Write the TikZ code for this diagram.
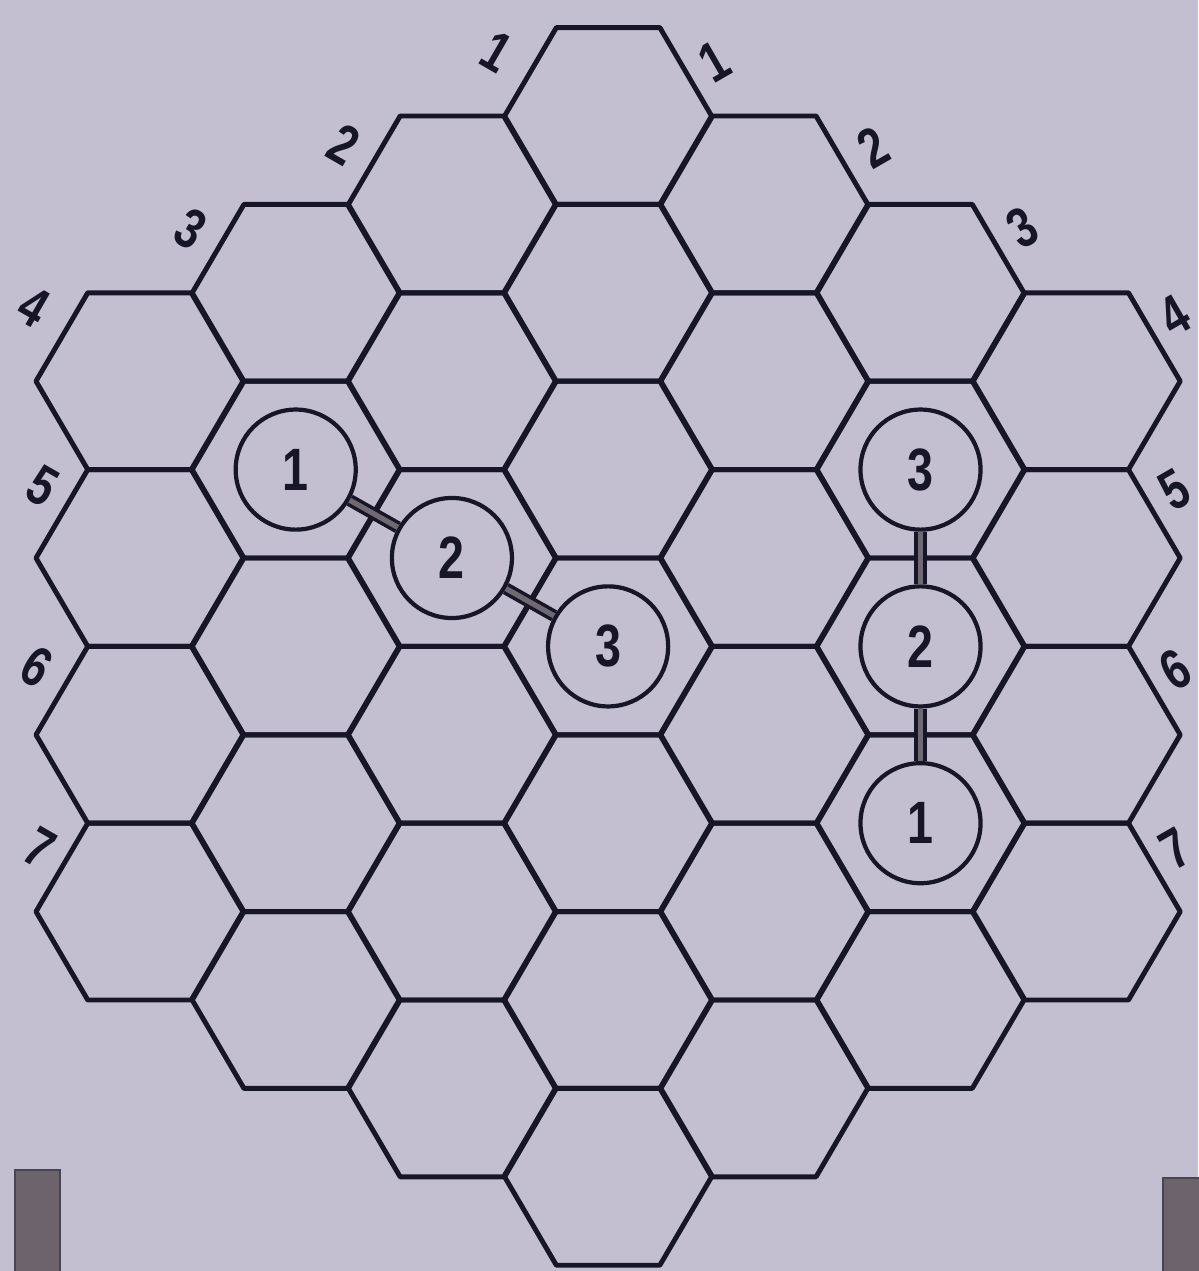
\documentclass[tikz,border=0pt]{standalone}
\usepackage{fontspec}
\setmainfont{Liberation Sans}
\usetikzlibrary{positioning}
\definecolor{boardbg}{RGB}{195,191,208}
\definecolor{ink}{RGB}{22,22,40}
\definecolor{linkgrey}{RGB}{112,105,114}
\definecolor{markgrey}{RGB}{108,100,106}
\tikzset{
hexline/.style={
draw=ink,
line width=1.4pt,
line join=round
},
token/.style={
circle,
draw=ink,
line width=1.2pt,
minimum size=1.2cm,
inner sep=0pt,
text=ink,
font=\fontsize{17}{17}\selectfont\bfseries
},
link/.style={
draw=ink,
line width=1pt,
double=linkgrey,
double distance=1.5pt
},
rowlabel/.style={
text=ink,
inner sep=0pt,
font=\fontsize{16}{16}\selectfont\bfseries
},
scanmark/.style={
fill=markgrey,
draw=ink!80,
line width=0.6pt
}
}
\newcommand{\narrow}[1]{\scalebox{0.78}[1]{#1}}

\begin{document}
\begin{tikzpicture}[x=0.01cm,y=-0.01cm]
\useasboundingbox (0,0) rectangle (1198,1271);
\fill[boardbg] (0,0) rectangle (1198,1271);

% board of 37 cells
\foreach \c in {0,...,6}{
  \pgfmathtruncatemacro\d{abs(\c-3)}
  \pgfmathtruncatemacro\n{6-\d}
  \pgfmathsetmacro\x{139.5+156.2*\c}
  \foreach \r in {0,...,\n}{
    \pgfmathsetmacro\y{116+88.4*\d+176.8*\r}
    \coordinate (h-\c-\r) at (\x,\y);
    \draw[hexline] (\x,\y) ++(-103.5,0) -- ++(51.75,-88.4) -- ++(103.5,0)
      -- ++(51.75,88.4) -- ++(-51.75,88.4) -- ++(-103.5,0) -- cycle;
  }
}

% row numbers
\foreach \t/\px/\py in {1/497/52,2/344/145,3/191/229,4/34/307,5/43/486,6/37/667,7/40/848}
  \node[rowlabel,rotate=-30] (lw-\t) at (\px,\py) {\narrow{\t}};
\foreach \t/\px/\py in {1/714/62,2/873/147,3/1022/228,4/1174/316,5/1174/490,6/1175/670,7/1175/849}
  \node[rowlabel,rotate=30] (le-\t) at (\px,\py) {\narrow{\t}};

% pieces
\node[token] (a1) at (h-1-1) {\narrow{1}};
\node[token] (a2) at (h-2-2) {\narrow{2}};
\node[token] (a3) at (h-3-3) {\narrow{3}};
\node[token] (b3) at (h-5-1) {\narrow{3}};
\node[token] (b2) at (h-5-2) {\narrow{2}};
\node[token] (b1) at (h-5-3) {\narrow{1}};

\draw[link] (a1) -- (a2);
\draw[link] (a2) -- (a3);
\draw[link] (b3) -- (b2);
\draw[link] (b2) -- (b1);

% scan marks
\draw[scanmark] (15,1170) rectangle (60,1276);
\draw[scanmark] (1163,1178) rectangle (1203,1276);
\end{tikzpicture}
\end{document}
